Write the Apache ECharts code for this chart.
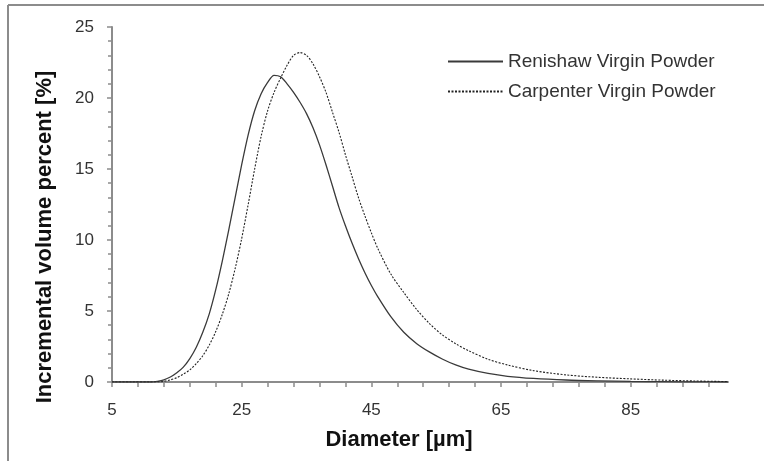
<!DOCTYPE html>
<html>
<head>
<meta charset="utf-8">
<script src="https://cdn.jsdelivr.net/npm/echarts@6/dist/echarts.min.js"></script>
<style>html,body{margin:0;padding:0;background:#fff;}#c{width:764px;height:461px;}</style>
</head>
<body>
<div id="c"></div>
<script>
const diameters = [5, 8, 11, 12, 13, 14, 15, 16, 17, 18, 19, 20, 21, 22, 23, 24, 25, 26, 27, 28, 29, 30, 31, 32, 33, 34, 35, 36, 37, 38, 39, 40, 41, 42, 43, 44, 45, 46, 48, 50, 52, 54, 56, 58, 60, 63, 66, 70, 75, 80, 85, 90, 95, 100];
const renishaw = [0, 0, 0, 0.05, 0.15, 0.35, 0.65, 1.05, 1.65, 2.45, 3.5, 4.8, 6.5, 8.5, 10.7, 13.0, 15.3, 17.4, 19.1, 20.3, 21.1, 21.6, 21.5, 21.0, 20.4, 19.7, 18.9, 17.9, 16.7, 15.3, 13.8, 12.3, 11.0, 9.8, 8.7, 7.7, 6.8, 6.0, 4.6, 3.5, 2.7, 2.1, 1.6, 1.2, 0.9, 0.6, 0.4, 0.25, 0.14, 0.08, 0.04, 0.02, 0.01, 0];
const carpenter = [0, 0, 0, 0, 0.05, 0.15, 0.3, 0.55, 0.85, 1.3, 1.85, 2.6, 3.55, 4.75, 6.2, 8.0, 10.1, 12.5, 15.0, 17.3, 19.1, 20.4, 21.4, 22.3, 23.0, 23.2, 23.0, 22.4, 21.5, 20.4, 19.0, 17.6, 16.0, 14.5, 13.0, 11.7, 10.5, 9.4, 7.6, 6.3, 5.1, 4.1, 3.3, 2.7, 2.2, 1.6, 1.2, 0.8, 0.5, 0.33, 0.22, 0.13, 0.07, 0.03];
const xLabelValues = [5, 25, 45, 65, 85];
const xTickValues = [5, 9, 13, 17, 21, 25, 29, 33, 37, 41, 45, 49, 53, 57, 61, 65, 69, 73, 77, 81, 85, 89, 93, 97];
const seriesNames = ['Renishaw Virgin Powder', 'Carpenter Virgin Powder'];

const pair = vals => diameters.map((d, i) => [d, vals[i]]);
const font = "'Liberation Sans', Arial, sans-serif";
const axisGrey = '#8c8c8c';

const chart = echarts.init(document.getElementById('c'), null, {renderer: 'canvas'});
chart.setOption({
  animation: false,
  backgroundColor: '#ffffff',
  graphic: [
    {type: 'line', shape: {x1: 8, y1: 5, x2: 764, y2: 5}, style: {stroke: '#8c8c8c', lineWidth: 2}},
    {type: 'line', shape: {x1: 8, y1: 5, x2: 8, y2: 461}, style: {stroke: '#8c8c8c', lineWidth: 2}}
  ],
  grid: {left: 112, top: 27, right: 36, bottom: 79, containLabel: false},
  legend: {
    orient: 'vertical', left: 447, top: 52, padding: 0, itemWidth: 55, itemHeight: 14, itemGap: 11,
    itemStyle: {opacity: 0},
    textStyle: {fontFamily: font, fontSize: 19, color: '#333'},
    data: seriesNames
  },
  xAxis: {
    type: 'value', min: 5, max: 100,
    name: 'Diameter [µm]', nameLocation: 'middle', nameGap: 47,
    nameTextStyle: {fontFamily: font, fontSize: 22, fontWeight: 'bold', color: '#111', padding: [0, 42, 0, 0]},
    axisLine: {show: true, onZero: false, lineStyle: {color: axisGrey, width: 2}},
    axisTick: {show: true, length: 5, customValues: xTickValues, lineStyle: {color: axisGrey, width: 1.5}},
    axisLabel: {customValues: xLabelValues, margin: 20, fontFamily: font, fontSize: 17, color: '#333'},
    splitLine: {show: false}
  },
  yAxis: {
    type: 'value', min: 0, max: 25, interval: 5,
    name: 'Incremental volume percent [%]', nameLocation: 'middle', nameGap: 56,
    nameTextStyle: {fontFamily: font, fontSize: 22, fontWeight: 'bold', color: '#111', padding: [0, 65, 0, 0]},
    axisLine: {show: true, lineStyle: {color: axisGrey, width: 2}},
    axisTick: {show: true, length: 5, lineStyle: {color: axisGrey, width: 1.5}},
    minorTick: {show: true, splitNumber: 5, length: 4, lineStyle: {color: axisGrey, width: 1.5}},
    axisLabel: {margin: 18, fontFamily: font, fontSize: 17, color: '#333'},
    splitLine: {show: false}
  },
  series: [
    {
      name: seriesNames[0], type: 'line', data: pair(renishaw), symbol: 'none',
      smooth: 0.3,
      lineStyle: {color: '#3a3a3a', width: 1.3, type: 'solid'},
      itemStyle: {color: '#3a3a3a'}
    },
    {
      name: seriesNames[1], type: 'line', data: pair(carpenter), symbol: 'none',
      smooth: 0.3,
      lineStyle: {color: '#222', width: 1.1, type: [2, 1.5]},
      itemStyle: {color: '#222'}
    }
  ]
});
</script>
</body>
</html>
